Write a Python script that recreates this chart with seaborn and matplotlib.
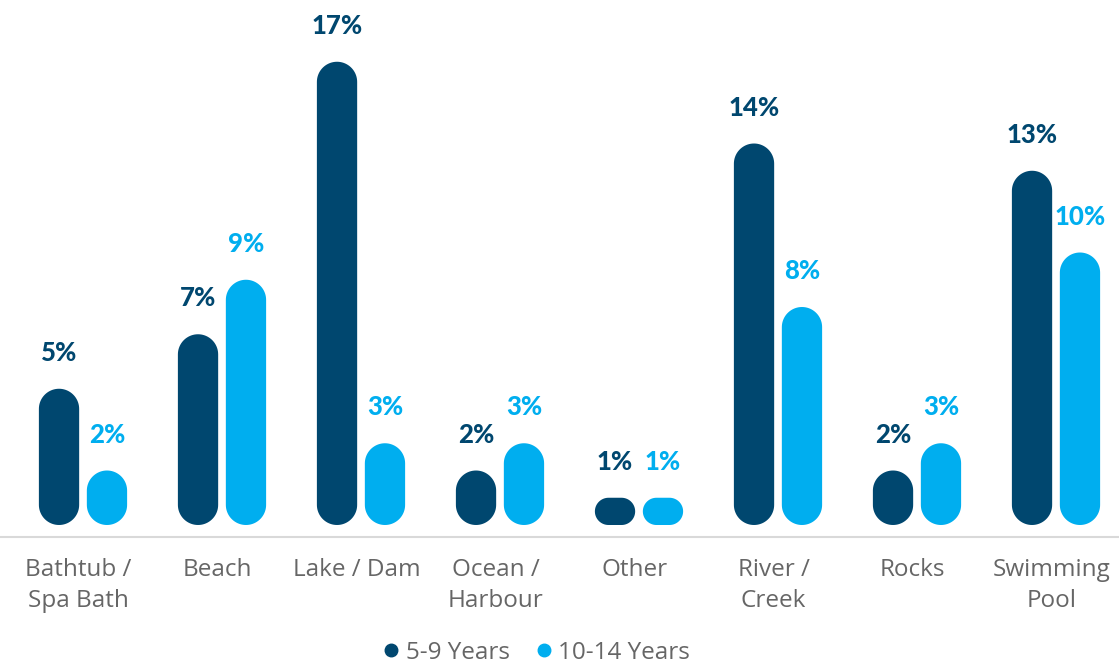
import matplotlib.pyplot as plt
import seaborn as sns
import pandas as pd
import numpy as np
from matplotlib.patches import Polygon
from matplotlib.lines import Line2D

categories = ["Bathtub /\nSpa Bath", "Beach", "Lake / Dam", "Ocean /\nHarbour",
              "Other", "River /\nCreek", "Rocks", "Swimming\nPool"]
groups = ["5-9 Years", "10-14 Years"]
age_5_9 = [5, 7, 17, 2, 1, 14, 2, 13]
age_10_14 = [2, 9, 3, 3, 1, 8, 3, 10]
colors = ["#00476F", "#00AEEF"]

df = pd.DataFrame({
    "place": categories * 2,
    "pct": age_5_9 + age_10_14,
    "group": [groups[0]] * len(categories) + [groups[1]] * len(categories),
})

sns.set_style("white")
W, H, DPI = 1119, 666, 100
fig = plt.figure(figsize=(W / DPI, H / DPI), dpi=DPI)
ax_bottom_px = 537
ax = fig.add_axes([0, (H - ax_bottom_px) / H, 1, ax_bottom_px / H])

sns.barplot(data=df, x="place", y="pct", hue="group", order=categories,
            hue_order=groups, palette=colors, saturation=1, width=0.69,
            gap=0.16, legend=False, ax=ax)

# axis limits chosen so 1 category = 139 px and 1% = 27.25 px
xlim = (-83 / 139, (W - 83) / 139)
ylim = (-12 / 27.25, 525 / 27.25)
ax.set_xlim(*xlim)
ax.set_ylim(*ylim)
px_x = W / (xlim[1] - xlim[0])
px_y = ax_bottom_px / (ylim[1] - ylim[0])


def pill(x, w, h, color):
    """rounded bar, corners are true circles in screen space"""
    wp, hp = w * px_x, h * px_y
    r = min(wp, hp) / 2
    t = np.linspace(0, np.pi / 2, 20)
    corners = [((wp - r, hp - r), t), ((r, hp - r), t + np.pi / 2),
               ((r, r), t + np.pi), ((wp - r, r), t + 1.5 * np.pi)]
    pts = []
    for (cx, cy), ang in corners:
        pts.append(np.column_stack([cx + r * np.cos(ang), cy + r * np.sin(ang)]))
    pts = np.vstack(pts)
    pts = pts / [px_x, px_y] + [x, 0]
    return Polygon(pts, closed=True, fc=color, ec="none")


for p in list(ax.patches):
    x, w, h = p.get_x(), p.get_width(), p.get_height()
    fc = p.get_facecolor()
    p.remove()
    ax.add_patch(pill(x, w, h, fc))
    ax.annotate(f"{h:.0f}%", (x + w / 2, h), xytext=(0, 20),
                textcoords="offset points", ha="center", va="baseline",
                color=fc, fontsize=18.5, fontweight="black", family="Lato")

ax.set_xlabel("")
ax.set_ylabel("")
ax.set_yticks([])
ax.set_xticks(np.arange(len(categories)) - 4.5 / 139)
ax.set_xticklabels(categories, fontsize=17.5, color="#666666",
                   family="Open Sans", linespacing=1.42, va="top")
ax.tick_params(axis="x", length=0, pad=15)
for side in ["top", "left", "right"]:
    ax.spines[side].set_visible(False)
ax.spines["bottom"].set_color("#D9D9D9")
ax.spines["bottom"].set_linewidth(1.5)

handles = [Line2D([], [], marker="o", ls="none", color=c, markersize=9)
           for c in colors]
fig.legend(handles, groups, loc="center", bbox_to_anchor=(537 / W, 1 - 653 / H),
           ncol=2, frameon=False, handlelength=0.6, handletextpad=0.3,
           columnspacing=1.1,
           prop={"family": "Open Sans", "size": 17.5}, labelcolor="#666666")

fig.savefig("out.png", dpi=DPI)
